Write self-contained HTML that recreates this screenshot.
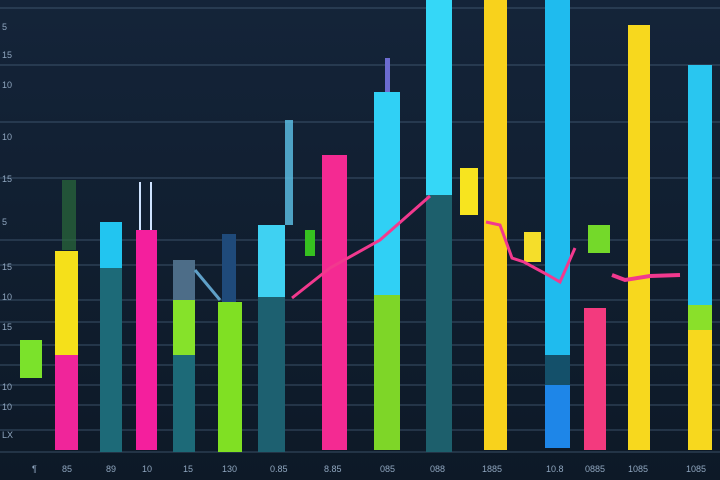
<!DOCTYPE html>
<html><head><meta charset="utf-8"><style>
html,body{margin:0;padding:0;background:#0f1d2e;}
svg{display:block}
text{font-family:"Liberation Sans",sans-serif;font-size:9px;fill:#8fa6bf}
</style></head><body>
<svg width="720" height="480" viewBox="0 0 720 480" xmlns="http://www.w3.org/2000/svg">
<defs>
<linearGradient id="bg" x1="0" y1="0" x2="0" y2="1"><stop offset="0" stop-color="#142439"/><stop offset="1" stop-color="#0d1927"/></linearGradient>
</defs>
<rect width="720" height="480" fill="url(#bg)"/>
<g stroke="#4c6680" stroke-width="1" opacity="0.7">
<line x1="0" y1="8" x2="720" y2="8"/><line x1="0" y1="65" x2="720" y2="65"/>
<line x1="0" y1="122" x2="720" y2="122"/><line x1="0" y1="178" x2="720" y2="178"/>
<line x1="0" y1="240" x2="720" y2="240"/><line x1="0" y1="265" x2="720" y2="265"/>
<line x1="0" y1="300" x2="720" y2="300"/><line x1="0" y1="322" x2="720" y2="322"/>
<line x1="0" y1="345" x2="720" y2="345"/><line x1="0" y1="365" x2="720" y2="365"/>
<line x1="0" y1="385" x2="720" y2="385"/><line x1="0" y1="405" x2="720" y2="405"/>
<line x1="0" y1="430" x2="720" y2="430"/><line x1="0" y1="452" x2="720" y2="452"/>
</g>
<g>
<text x="2" y="30">5</text><text x="2" y="58">15</text><text x="2" y="88">10</text>
<text x="2" y="140">10</text><text x="2" y="182">15</text><text x="2" y="225">5</text>
<text x="2" y="270">15</text><text x="2" y="300">10</text><text x="2" y="330">15</text>
<text x="2" y="390">10</text><text x="2" y="410">10</text><text x="2" y="438">LX</text>
</g>
<rect x="20" y="340" width="22" height="38" fill="#7be22b"/>
<rect x="62" y="180" width="14" height="70" fill="#2a6a3a" opacity=".7"/>
<rect x="55" y="251" width="23" height="104" fill="#f5e01a"/>
<rect x="55" y="355" width="23" height="95" fill="#f0259a"/>
<rect x="100" y="222" width="22" height="46" fill="#22c5f0"/>
<rect x="100" y="268" width="22" height="184" fill="#1d6a78"/>
<rect x="139" y="182" width="2" height="48" fill="#cfe3ff"/><rect x="150" y="182" width="2" height="48" fill="#cfe3ff"/>
<rect x="136" y="230" width="21" height="220" fill="#f41f9d"/>
<rect x="173" y="260" width="22" height="40" fill="#4d6d88"/>
<rect x="173" y="300" width="22" height="55" fill="#86e22a"/>
<rect x="173" y="355" width="22" height="97" fill="#1d6a78"/>
<rect x="222" y="234" width="14" height="68" fill="#1f4a7a"/>
<rect x="218" y="302" width="24" height="150" fill="#80e023"/>
<rect x="285" y="120" width="8" height="105" fill="#5ec3ea" opacity=".8"/>
<rect x="258" y="225" width="27" height="72" fill="#3fd1f2"/>
<rect x="258" y="297" width="27" height="155" fill="#1d6070"/>
<rect x="305" y="230" width="10" height="26" fill="#36c020"/>
<rect x="322" y="155" width="25" height="295" fill="#f42a92"/>
<rect x="385" y="58" width="5" height="34" fill="#6c6cd0"/>
<rect x="374" y="92" width="26" height="203" fill="#30d0f5"/>
<rect x="374" y="295" width="26" height="155" fill="#7ed628"/>
<rect x="426" y="0" width="26" height="195" fill="#35d7f7"/>
<rect x="426" y="195" width="26" height="257" fill="#1d5f6c"/>
<rect x="460" y="168" width="18" height="47" fill="#f7e41f"/>
<rect x="484" y="0" width="23" height="450" fill="#f8d21c"/>
<rect x="524" y="232" width="17" height="30" fill="#f5de2a"/>
<rect x="545" y="0" width="25" height="355" fill="#1fbbee"/>
<rect x="545" y="355" width="25" height="30" fill="#14506a"/>
<rect x="545" y="385" width="25" height="63" fill="#1e86e8"/>
<rect x="588" y="225" width="22" height="28" fill="#74d92a"/>
<rect x="584" y="308" width="22" height="142" fill="#f33a7e"/>
<rect x="628" y="25" width="22" height="425" fill="#f7d81e"/>
<rect x="688" y="65" width="24" height="240" fill="#29c6f0"/>
<rect x="688" y="305" width="24" height="25" fill="#8ae02a"/>
<rect x="688" y="330" width="24" height="120" fill="#f7d81e"/>
<polyline points="292,298 330,268 380,240 430,196" fill="none" stroke="#f2398e" stroke-width="3"/>
<polyline points="486,222 500,225 512,258 524,262 548,275 560,282 575,248" fill="none" stroke="#f2398e" stroke-width="3"/>
<polyline points="612,275 625,280 650,276 680,275" fill="none" stroke="#f2398e" stroke-width="4"/>
<line x1="195" y1="270" x2="220" y2="300" stroke="#5fa0c8" stroke-width="3"/>
<g>
<text x="32" y="472">¶</text><text x="62" y="472">85</text><text x="106" y="472">89</text>
<text x="142" y="472">10</text><text x="183" y="472">15</text><text x="222" y="472">130</text>
<text x="270" y="472">0.85</text><text x="324" y="472">8.85</text><text x="380" y="472">085</text>
<text x="430" y="472">088</text><text x="482" y="472">1885</text><text x="546" y="472">10.8</text>
<text x="585" y="472">0885</text><text x="628" y="472">1085</text><text x="686" y="472">1085</text>
</g>
</svg>
</body></html>
